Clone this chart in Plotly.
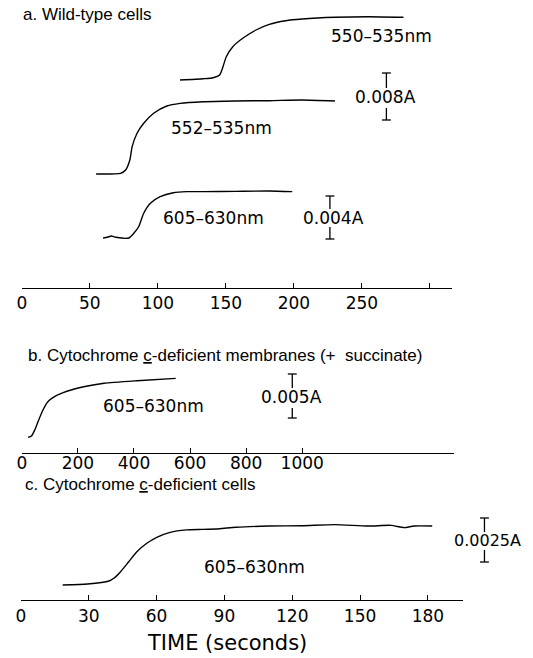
import plotly.graph_objects as go

W, H = 533, 658

# ---------------- data (time in s, absorbance change ΔA) ----------------
# Panel a: wild-type cells
a550_t = [116.3, 133.3, 140.6, 145.4, 147.9, 150.3, 155.1, 162.4, 172.1, 181.9, 194.0, 206.1, 230.4, 254.7, 280.6]
a550_dA = [0, 0.00022, 0.00039, 0.00085, 0.00226, 0.00397, 0.00567, 0.0071, 0.00851, 0.00948, 0.01009, 0.01038, 0.01067, 0.01077, 0.01067]

a552_t = [54.6, 72.6, 76.3, 79.4, 81.1, 84.7, 89.6, 96.9, 106.6, 116.3, 133.3, 157.3, 181.9, 206.1, 230.2]
a552_dA = [0, 0.00012, 0.00068, 0.00238, 0.00465, 0.00693, 0.00863, 0.01033, 0.01157, 0.01203, 0.01231, 0.01243, 0.01248, 0.0126, 0.01243]

a605_t = [59.7, 62.9, 65.8, 69.0, 78.7, 82.3, 85.9, 89.6, 94.5, 101.7, 111.4, 121.1, 133.3, 157.3, 181.9, 198.8]
a605_dA = [0, 0.00007, 0.00019, 0.00007, 0, 0.00044, 0.00105, 0.0023, 0.00323, 0.00384, 0.00421, 0.00431, 0.00431, 0.00434, 0.00437, 0.00431]

# Panel b: cytochrome c-deficient membranes (+ succinate)
b605_t = [22.3, 34.3, 45.9, 57.6, 75.3, 92.9, 128.0, 175.6, 234.3, 293.3, 411.0, 548.8]
b605_dA = [0, 0.00015, 0.00083, 0.00177, 0.0031, 0.00405, 0.00481, 0.00538, 0.00583, 0.00614, 0.00643, 0.0067]

# Panel c: cytochrome c-deficient cells
c605_t = [18.5, 29.5, 39.0, 41.1, 44.1, 47.7, 51.3, 55.7, 60.1, 66.0, 73.2, 80.5, 87.8, 95.1, 109.7, 124.3, 138.9, 153.5, 163.7, 169.5, 173.9, 181.9]
c605_dA = [0, 0.000057, 0.000227, 0.00038, 0.000756, 0.00132, 0.00189, 0.00237, 0.00271, 0.00299, 0.00313, 0.00316, 0.0032,
           0.00328, 0.00335, 0.00337, 0.00343, 0.00335, 0.00339, 0.00326, 0.00335, 0.00335]

# scale bars (absorbance)
bar_a_top = 0.008
bar_a_bot = 0.004
bar_b = 0.005
bar_c = 0.0025

# axis ticks
a_ticks = [0, 50, 100, 150, 200, 250, 300]
a_ticklabels = ["0", "50", "100", "150", "200", "250", ""]
b_ticks = [0, 200, 400, 600, 800, 1000]
b_ticklabels = ["0", "200", "400", "600", "800", "1000"]
c_ticks = [0, 30, 60, 90, 120, 150, 180]
c_ticklabels = ["0", "30", "60", "90", "120", "150", "180"]

# trace labels / titles
lab_550 = "550–535nm"
lab_552 = "552–535nm"
lab_605 = "605–630nm"
title_a = "a. Wild-type cells"
title_b = "b. Cytochrome <span style='text-decoration:underline'>c</span>-deficient membranes (+  succinate)"
title_c = "c. Cytochrome <span style='text-decoration:underline'>c</span>-deficient cells"
xlabel = "TIME (seconds)"

# ---------------- layout geometry (pixels) ----------------
NUMFONT = "DejaVu Sans"
TXTFONT = "Liberation Sans, Arial, sans-serif"


def xp(px):
    return px / W


def yp(py):
    return 1 - py / H


# scale (px per absorbance unit) derived from scale-bar pixel lengths
s_a1 = 47 / bar_a_top
s_a2 = 43 / bar_a_bot
s_b = 44 / bar_b
s_c = 44 / bar_c

# baseline pixel rows of each trace
base = dict(a550=80, a552=174, a605=238, b605=437.3, c605=585)


def yrange(py_b, s):
    return [-(H - py_b) / s, py_b / s]


fig = go.Figure()
line = dict(color="black", width=1.4, shape="spline", smoothing=0.6)
fig.add_trace(go.Scatter(x=a550_t, y=a550_dA, mode="lines", line=line, xaxis="x", yaxis="y"))
fig.add_trace(go.Scatter(x=a552_t, y=a552_dA, mode="lines", line=line, xaxis="x", yaxis="y2"))
fig.add_trace(go.Scatter(x=a605_t, y=a605_dA, mode="lines", line=line, xaxis="x", yaxis="y3"))
fig.add_trace(go.Scatter(x=b605_t, y=b605_dA, mode="lines", line=line, xaxis="x2", yaxis="y4"))
fig.add_trace(go.Scatter(x=c605_t, y=c605_dA, mode="lines", line=line, xaxis="x3", yaxis="y5"))

xcommon = dict(showgrid=False, zeroline=False, showline=True, linecolor="black", linewidth=1.3,
               ticks="inside", ticklen=5, tickwidth=1.2, tickcolor="black",
               tickfont=dict(family=NUMFONT, size=17, color="black"),
               anchor="free", tickmode="array", fixedrange=True)
a_rng = [0, (451 - 17) / 1.373]
b_rng = [0, (453 - 17) / 0.283]
c_rng = [0, (462 - 16) / 2.283]
ycommon = dict(visible=False, domain=[0, 1], fixedrange=True)

fig.update_layout(
    width=W, height=H,
    margin=dict(l=0, r=0, t=0, b=0),
    paper_bgcolor="white", plot_bgcolor="rgba(0,0,0,0)",
    showlegend=False,
    xaxis=dict(xcommon, domain=[xp(17), xp(451)], range=a_rng, position=yp(288),
               tickvals=a_ticks, ticktext=a_ticklabels, ticklabelstandoff=-1),
    xaxis2=dict(xcommon, domain=[xp(17), xp(453)], range=b_rng, position=yp(453),
                tickvals=b_ticks, ticktext=b_ticklabels, ticklabelstandoff=-6),
    xaxis3=dict(xcommon, domain=[xp(16), xp(462)], range=c_rng, position=yp(600),
                tickvals=c_ticks, ticktext=c_ticklabels),
    yaxis=dict(ycommon, anchor="x", range=yrange(base["a550"], s_a1)),
    yaxis2=dict(ycommon, anchor="x", range=yrange(base["a552"], s_a1)),
    yaxis3=dict(ycommon, anchor="x", range=yrange(base["a605"], s_a2)),
    yaxis4=dict(ycommon, anchor="x2", range=yrange(base["b605"], s_b)),
    yaxis5=dict(ycommon, anchor="x3", range=yrange(base["c605"], s_c)),
)

shapes = []


def scale_bar(xpx, py_top, amount, yref, py_b, s, gap_top, gap_bot, cap=4.5):
    top = (py_b - py_top) / s
    bot = top - amount
    lw = dict(color="black", width=1.3)
    shapes.append(dict(type="line", xref="paper", yref=yref, x0=xp(xpx), x1=xp(xpx),
                       y0=top, y1=top - gap_top / s, line=lw))
    shapes.append(dict(type="line", xref="paper", yref=yref, x0=xp(xpx), x1=xp(xpx),
                       y0=bot + gap_bot / s, y1=bot, line=lw))
    for v in (top, bot):
        shapes.append(dict(type="line", xref="paper", yref=yref, x0=xp(xpx - cap), x1=xp(xpx + cap),
                           y0=v, y1=v, line=lw))


scale_bar(385, 73, bar_a_top, "y", base["a550"], s_a1, 15, 12)
scale_bar(328, 196, bar_a_bot, "y3", base["a605"], s_a2, 13, 12)
scale_bar(290, 374, bar_b, "y4", base["b605"], s_b, 14, 10)
scale_bar(484, 518, bar_c, "y5", base["c605"], s_c, 14, 12)
fig.update_layout(shapes=shapes)

ann = []


def text(t, xpx, ypx, size=17, family=NUMFONT, xanchor="center"):
    ann.append(dict(text=t, x=xp(xpx), y=yp(ypx), xref="paper", yref="paper", showarrow=False,
                    xanchor=xanchor, yanchor="middle", font=dict(family=family, size=size, color="black")))


text(lab_550, 380, 36)
text(lab_552, 219, 128)
text(lab_605, 210, 218)
text(f"{bar_a_top:.3f}A", 384, 97)
text(f"{bar_a_bot:.3f}A", 332, 218)
text(lab_605, 150, 406)
text(f"{bar_b:.3f}A", 289, 397)
text(lab_605, 252, 567)
text(f"{bar_c:.4f}A", 487, 540, size=16)
text(title_a, 16, 14, size=17, family=TXTFONT, xanchor="left")
text(title_b, 21, 355, size=17, family=TXTFONT, xanchor="left")
text(title_c, 18, 484, size=17, family=TXTFONT, xanchor="left")
text(xlabel, 224, 643, size=21, family=NUMFONT)
fig.update_layout(annotations=ann)

fig.write_html("out.html")
